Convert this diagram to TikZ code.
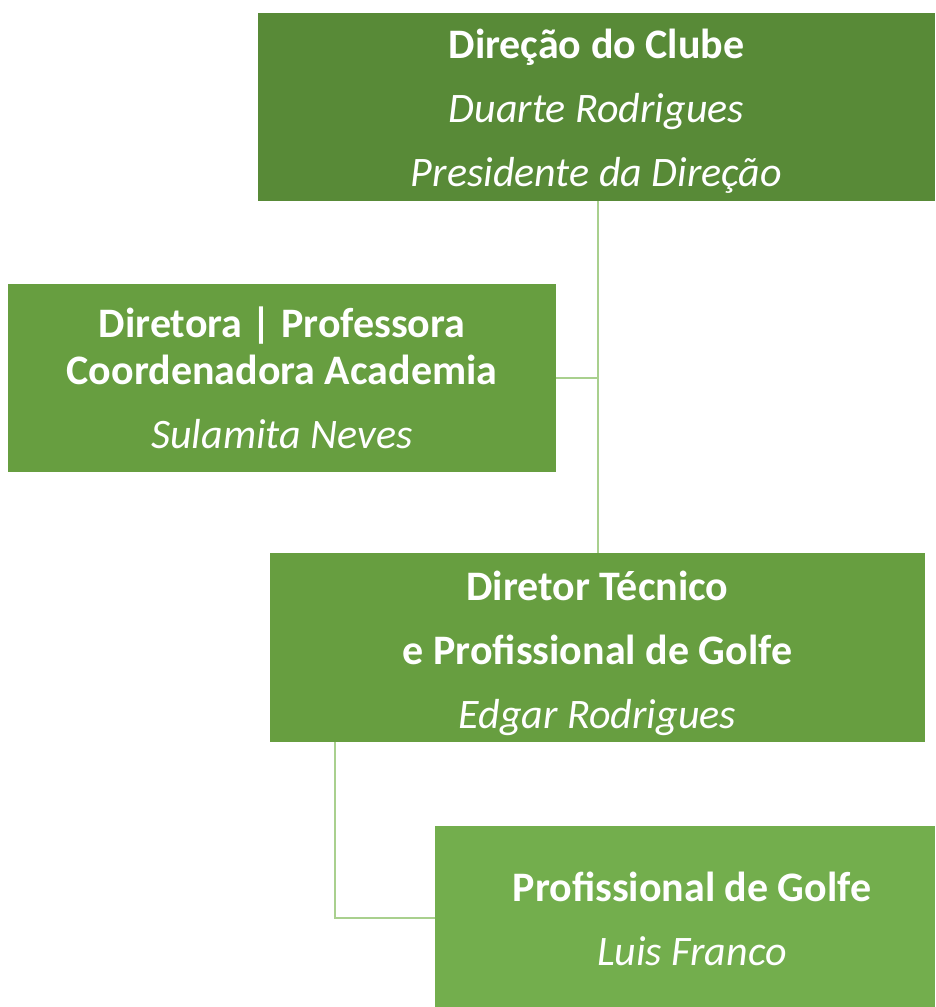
\documentclass[tikz,border=0pt]{standalone}
\usepackage{fontspec}
\setmainfont{Carlito}
\definecolor{gA}{RGB}{88,138,55}
\definecolor{gB}{RGB}{103,158,64}
\definecolor{gC}{RGB}{115,174,77}
\definecolor{ln}{RGB}{169,208,142}
\begin{document}
\begin{tikzpicture}[x=1pt,y=-1pt,
  box/.style={rectangle,draw=none,inner sep=0pt},
  txt/.style={text=white,align=center,inner sep=0pt,
    font=\fontsize{42}{64}\selectfont},
  conn/.style={draw=ln,line width=2pt}]
\useasboundingbox (0,0) rectangle (935,1007);
\node[box,fill=gA,minimum width=677,minimum height=188] (dir) at (596.5,107) {};
\node[txt] (dirT) at ([yshift=-4pt]dir.center)
  {\textbf{Direção do Clube}\\\textit{Duarte Rodrigues}\\\textit{Presidente da Direção}};
\node[box,fill=gB,minimum width=548,minimum height=188] (acad) at (282,378) {};
\node[txt,font=\fontsize{42}{47}\selectfont] (acadT) at (acad.center)
  {\textbf{Diretora | Professora}\\\textbf{Coordenadora Academia}\\[17pt]\textit{Sulamita Neves}};
\node[box,fill=gB,minimum width=655,minimum height=189] (tec) at (597.5,647.5) {};
\node[txt] (tecT) at ([yshift=-5.5pt]tec.center)
  {\textbf{Diretor Técnico}\\\textbf{e Profissional de Golfe}\\\textit{Edgar Rodrigues}};
\node[box,fill=gC,minimum width=500,minimum height=181] (prof) at (685,916.5) {};
\node[txt] (profT) at ([xshift=7pt,yshift=-2.5pt]prof.center)
  {\textbf{Profissional de Golfe}\\\textit{Luis Franco}};
\coordinate (j1) at (598,378);
\coordinate (j2) at (335,918);
\draw[conn] (dir.south -| j1) -- (tec.north -| j1);
\draw[conn] (acad.east) -- (j1);
\draw[conn] (tec.south -| j2) -- (j2) -- (j2 -| prof.west);
\end{tikzpicture}
\end{document}
